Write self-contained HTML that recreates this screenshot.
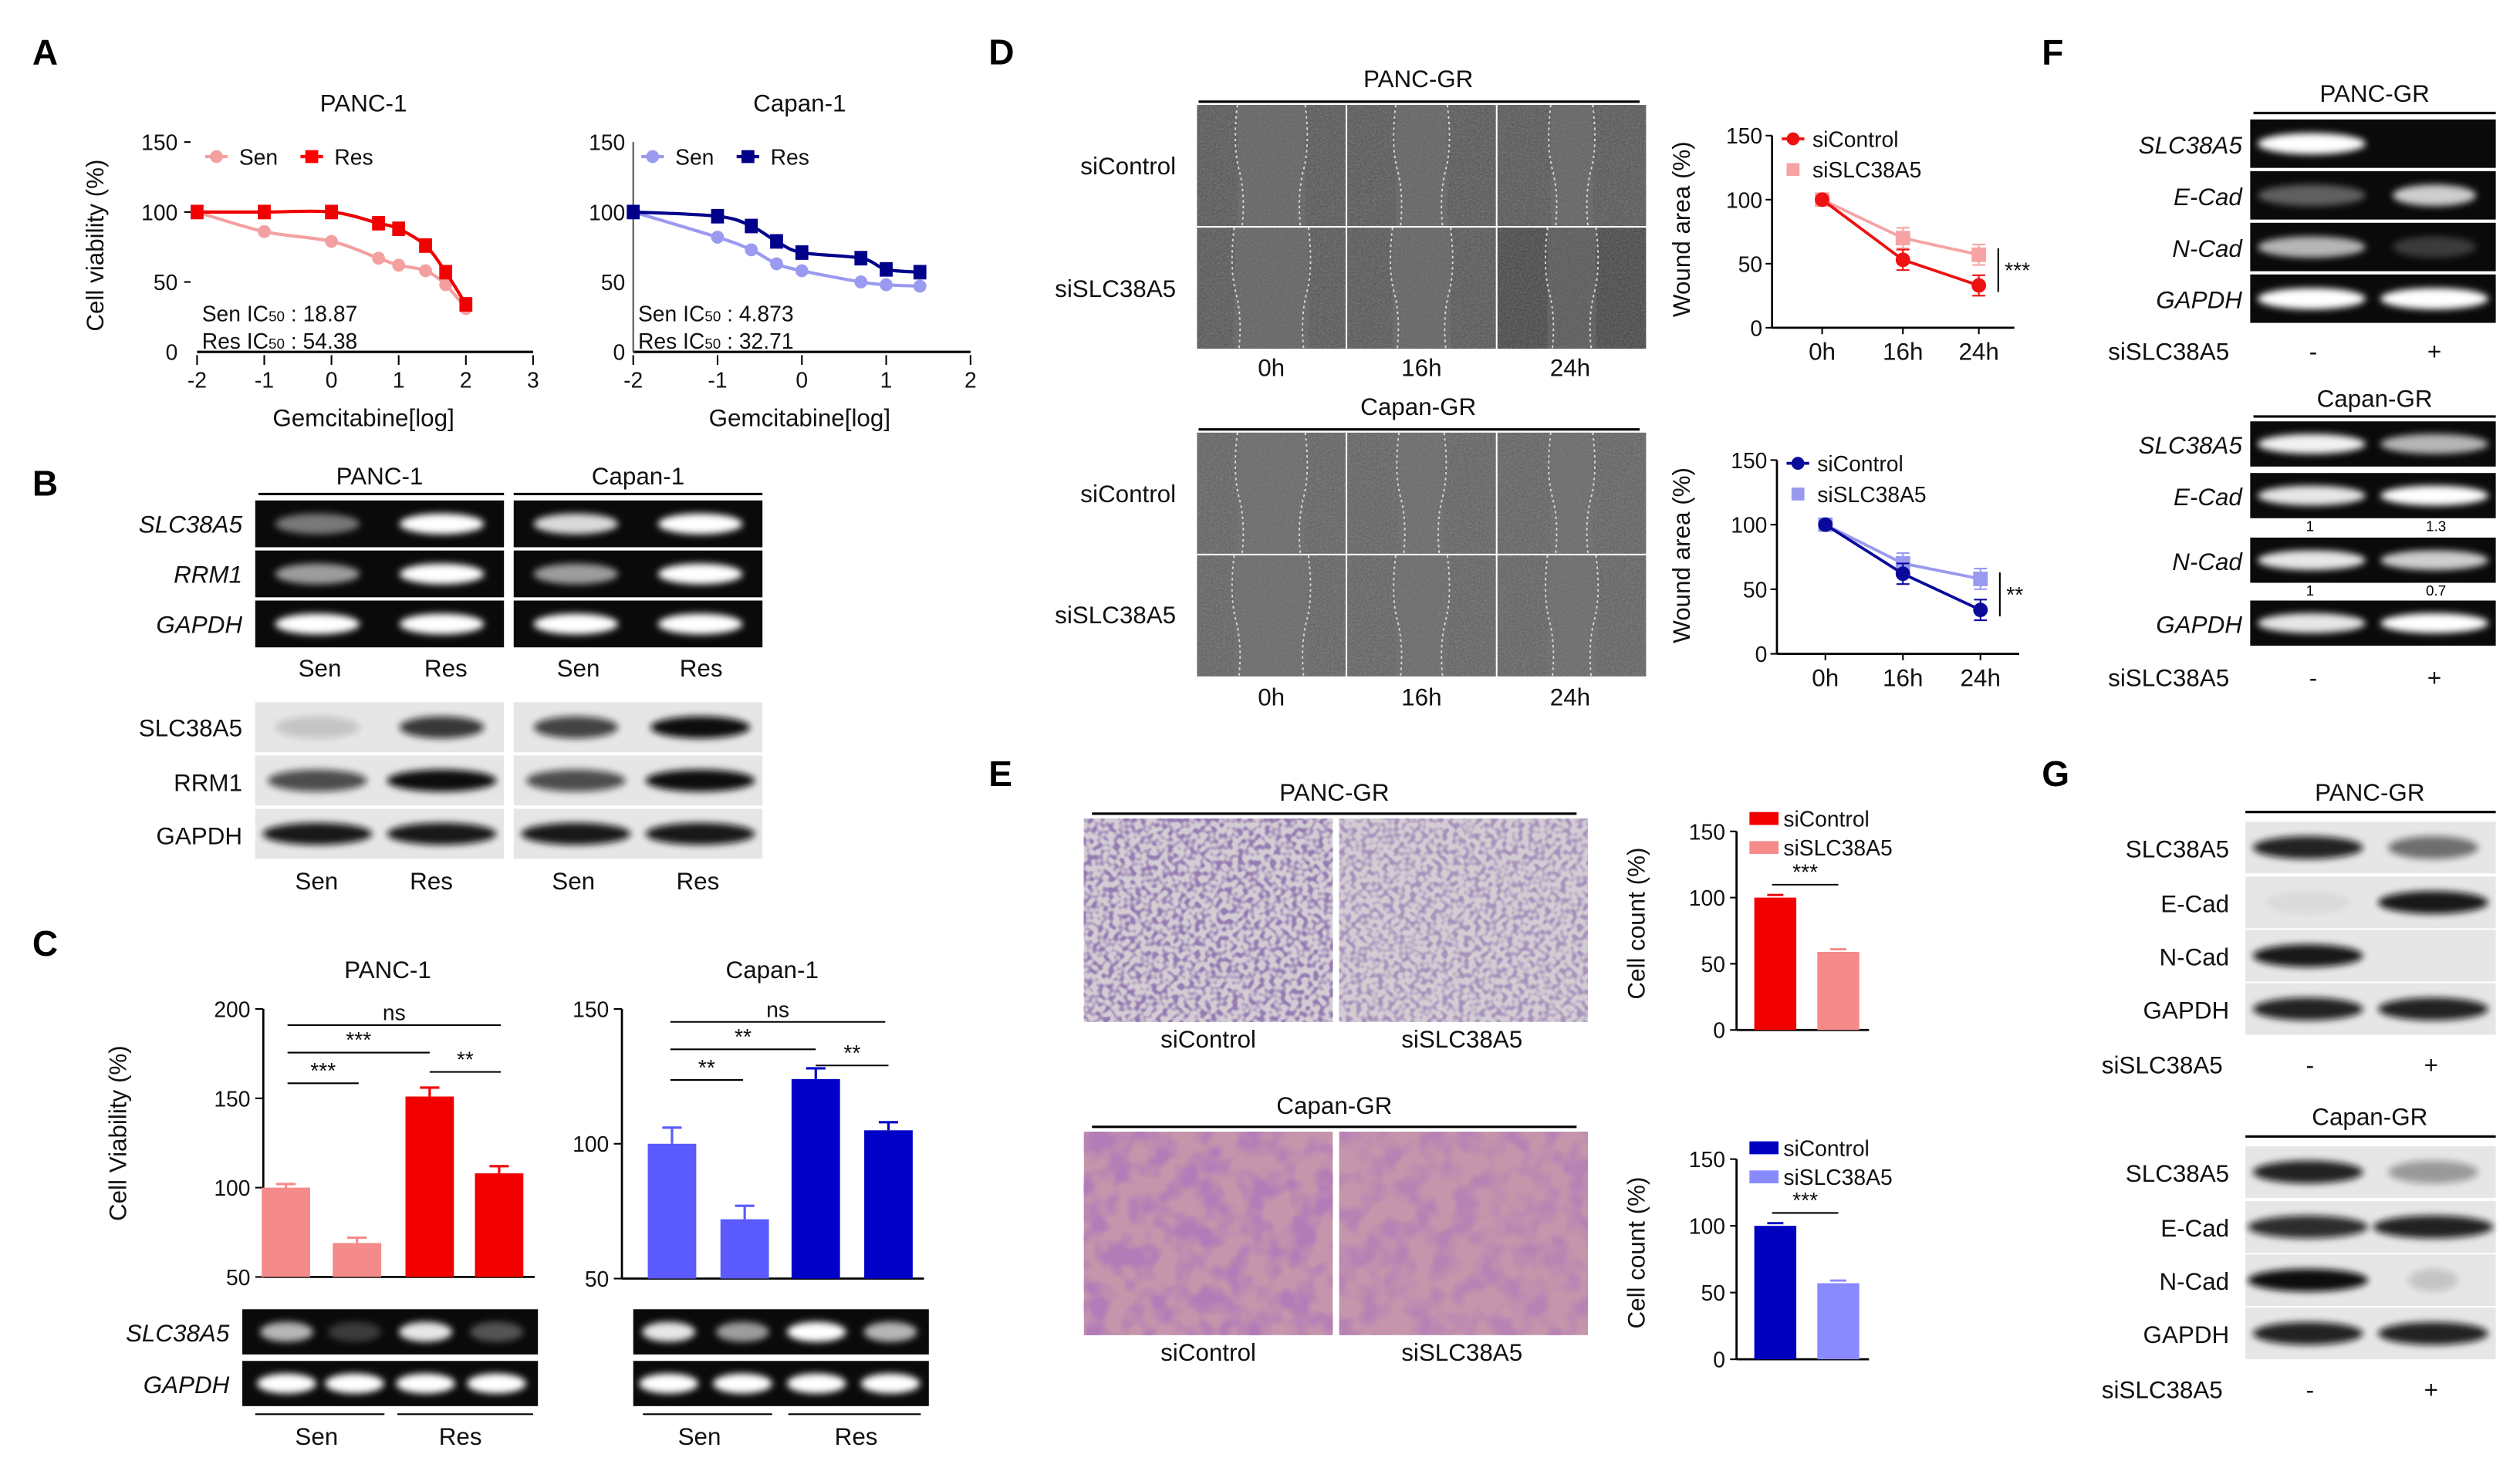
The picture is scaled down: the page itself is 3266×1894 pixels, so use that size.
<!DOCTYPE html>
<html><head><meta charset="utf-8">
<style>
html,body{margin:0;padding:0;background:#fff;}
svg{display:block;font-family:"Liberation Sans",Arial,sans-serif;}
.t{font-size:15px;fill:#111;}
.tk{font-size:13.5px;fill:#111;}
.it{font-style:italic;}
.pl{font-size:22px;font-weight:bold;fill:#000;}
</style></head>
<body>
<svg id="fig" width="3266" height="1894" viewBox="0 0 1560 905" preserveAspectRatio="none" xmlns="http://www.w3.org/2000/svg">
<defs>
<filter id="bl" x="-20%" y="-50%" width="140%" height="200%"><feGaussianBlur stdDeviation="2.2"/></filter>
<filter id="noise" x="0" y="0" width="1" height="1"><feTurbulence type="fractalNoise" baseFrequency="0.9" numOctaves="2" result="n"/><feColorMatrix type="saturate" values="0"/><feComponentTransfer><feFuncA type="table" tableValues="0 0.35"/></feComponentTransfer></filter>
<filter id="blob" x="0" y="0" width="1" height="1"><feTurbulence type="fractalNoise" baseFrequency="0.07" numOctaves="2"/><feColorMatrix type="matrix" values="0 0 0 0 0.45  0 0 0 0 0.2  0 0 0 0 0.48  0 0 0 -3.5 2.1"/></filter>
<filter id="dots" x="0" y="0" width="1" height="1"><feTurbulence type="fractalNoise" baseFrequency="0.3" numOctaves="1"/><feColorMatrix type="matrix" values="0 0 0 0 0.3  0 0 0 0 0.2  0 0 0 0 0.45  0 0 0 -4 2.3"/></filter>
</defs>
<rect width="1560" height="905" fill="#fff"/>

<text class="pl" x="20" y="40">A</text>
<text class="pl" x="20" y="307">B</text>
<text class="pl" x="20" y="592">C</text>
<text class="pl" x="612" y="40">D</text>
<text class="pl" x="612" y="487">E</text>
<text class="pl" x="1264" y="40">F</text>
<text class="pl" x="1264" y="487">G</text>

<g>
<text class="t" x="225" y="69" text-anchor="middle">PANC-1</text>
<text class="t" x="495" y="69" text-anchor="middle">Capan-1</text>
<text class="t" transform="translate(64,152) rotate(-90)" text-anchor="middle">Cell viability (%)</text>
<text class="t" x="225" y="264" text-anchor="middle">Gemcitabine[log]</text>
<text class="t" x="495" y="264" text-anchor="middle">Gemcitabine[log]</text>
<text class="tk" x="125" y="199">Sen IC<tspan font-size="9">50</tspan> : 18.87</text>
<text class="tk" x="125" y="216">Res IC<tspan font-size="9">50</tspan> : 54.38</text>
<text class="tk" x="395" y="199">Sen IC<tspan font-size="9">50</tspan> : 4.873</text>
<text class="tk" x="395" y="216">Res IC<tspan font-size="9">50</tspan> : 32.71</text>
<g>
<line x1="127" y1="97" x2="141" y2="97" stroke="#f4a0a0" stroke-width="2"/><circle cx="134" cy="97" r="4" fill="#f4a0a0"/>
<text class="tk" x="148" y="102">Sen</text>
<line x1="186" y1="97" x2="200" y2="97" stroke="#f00" stroke-width="2"/><rect x="189" y="93" width="8" height="8" fill="#f00"/>
<text class="tk" x="207" y="102">Res</text></g>
<g>
<line x1="397" y1="97" x2="411" y2="97" stroke="#9a9af0" stroke-width="2"/><circle cx="404" cy="97" r="4" fill="#9a9af0"/>
<text class="tk" x="418" y="102">Sen</text>
<line x1="456" y1="97" x2="470" y2="97" stroke="#00008b" stroke-width="2"/><rect x="459" y="93" width="8" height="8" fill="#00008b"/>
<text class="tk" x="477" y="102">Res</text></g>
</g>
<g id="chartA1"></g>
<g id="chartA2"></g>

<g>
<text class="t" x="235" y="300" text-anchor="middle">PANC-1</text>
<text class="t" x="395" y="300" text-anchor="middle">Capan-1</text>
<line x1="160" y1="306" x2="312" y2="306" stroke="#000" stroke-width="1.5"/>
<line x1="318" y1="306" x2="472" y2="306" stroke="#000" stroke-width="1.5"/>
<text class="t it" x="150" y="330" text-anchor="end">SLC38A5</text>
<text class="t it" x="150" y="361" text-anchor="end">RRM1</text>
<text class="t it" x="150" y="392" text-anchor="end">GAPDH</text>
<text class="t" x="150" y="456" text-anchor="end">SLC38A5</text>
<text class="t" x="150" y="490" text-anchor="end">RRM1</text>
<text class="t" x="150" y="523" text-anchor="end">GAPDH</text>
<text class="t" x="198" y="419" text-anchor="middle">Sen</text><text class="t" x="276" y="419" text-anchor="middle">Res</text>
<text class="t" x="358" y="419" text-anchor="middle">Sen</text><text class="t" x="434" y="419" text-anchor="middle">Res</text>
<text class="t" x="196" y="551" text-anchor="middle">Sen</text><text class="t" x="267" y="551" text-anchor="middle">Res</text>
<text class="t" x="355" y="551" text-anchor="middle">Sen</text><text class="t" x="432" y="551" text-anchor="middle">Res</text>
</g>
<g id="gels"></g>

<g>
<text class="t" x="240" y="606" text-anchor="middle">PANC-1</text>
<text class="t" x="478" y="606" text-anchor="middle">Capan-1</text>
<text class="t" transform="translate(78,702) rotate(-90)" text-anchor="middle">Cell Viability (%)</text>
<text class="t it" x="142" y="831" text-anchor="end">SLC38A5</text>
<text class="t it" x="142" y="863" text-anchor="end">GAPDH</text>
<line x1="158" y1="876" x2="238" y2="876" stroke="#000"/><line x1="246" y1="876" x2="330" y2="876" stroke="#000"/>
<text class="t" x="196" y="895" text-anchor="middle">Sen</text><text class="t" x="285" y="895" text-anchor="middle">Res</text>
<line x1="398" y1="876" x2="478" y2="876" stroke="#000"/><line x1="488" y1="876" x2="570" y2="876" stroke="#000"/>
<text class="t" x="433" y="895" text-anchor="middle">Sen</text><text class="t" x="530" y="895" text-anchor="middle">Res</text>
</g>
<g id="chartC1"></g>
<g id="chartC2"></g>

<g id="scratch"></g>
<g>
<text class="t" x="878" y="54" text-anchor="middle">PANC-GR</text>
<line x1="742" y1="63" x2="1015" y2="63" stroke="#000" stroke-width="1.5"/>
<text class="t" x="728" y="108" text-anchor="end">siControl</text>
<text class="t" x="728" y="184" text-anchor="end">siSLC38A5</text>
<text class="t" x="787" y="233" text-anchor="middle">0h</text><text class="t" x="880" y="233" text-anchor="middle">16h</text><text class="t" x="972" y="233" text-anchor="middle">24h</text>
<text class="t" x="878" y="257" text-anchor="middle">Capan-GR</text>
<line x1="742" y1="266" x2="1015" y2="266" stroke="#000" stroke-width="1.5"/>
<text class="t" x="728" y="311" text-anchor="end">siControl</text>
<text class="t" x="728" y="386" text-anchor="end">siSLC38A5</text>
<text class="t" x="787" y="437" text-anchor="middle">0h</text><text class="t" x="880" y="437" text-anchor="middle">16h</text><text class="t" x="972" y="437" text-anchor="middle">24h</text>
<text class="t" transform="translate(1046,142) rotate(-90)" text-anchor="middle">Wound area (%)</text>
<text class="t" transform="translate(1046,344) rotate(-90)" text-anchor="middle">Wound area (%)</text>
</g>
<g id="chartD1"></g>
<g id="chartD2"></g>

<g id="transwell"></g>
<g>
<text class="t" x="826" y="496" text-anchor="middle">PANC-GR</text>
<line x1="676" y1="504" x2="976" y2="504" stroke="#000" stroke-width="1.5"/>
<text class="t" x="826" y="690" text-anchor="middle">Capan-GR</text>
<line x1="676" y1="698" x2="976" y2="698" stroke="#000" stroke-width="1.5"/>
<text class="t" x="748" y="649" text-anchor="middle">siControl</text><text class="t" x="905" y="649" text-anchor="middle">siSLC38A5</text>
<text class="t" x="748" y="843" text-anchor="middle">siControl</text><text class="t" x="905" y="843" text-anchor="middle">siSLC38A5</text>
<text class="t" transform="translate(1018,572) rotate(-90)" text-anchor="middle">Cell count (%)</text>
<text class="t" transform="translate(1018,776) rotate(-90)" text-anchor="middle">Cell count (%)</text>
</g>
<g id="chartE1"></g>
<g id="chartE2"></g>

<g>
<text class="t" x="1470" y="63" text-anchor="middle">PANC-GR</text>
<line x1="1395" y1="70" x2="1545" y2="70" stroke="#000" stroke-width="1.5"/>
<text class="t it" x="1388" y="95" text-anchor="end">SLC38A5</text>
<text class="t it" x="1388" y="127" text-anchor="end">E-Cad</text>
<text class="t it" x="1388" y="159" text-anchor="end">N-Cad</text>
<text class="t it" x="1388" y="191" text-anchor="end">GAPDH</text>
<text class="t" x="1380" y="223" text-anchor="end">siSLC38A5</text><text class="t" x="1432" y="223" text-anchor="middle">-</text><text class="t" x="1507" y="223" text-anchor="middle">+</text>
<text class="t" x="1470" y="252" text-anchor="middle">Capan-GR</text>
<line x1="1395" y1="258" x2="1545" y2="258" stroke="#000" stroke-width="1.5"/>
<text class="t it" x="1388" y="281" text-anchor="end">SLC38A5</text>
<text class="t it" x="1388" y="313" text-anchor="end">E-Cad</text>
<text class="t it" x="1388" y="353" text-anchor="end">N-Cad</text>
<text class="t it" x="1388" y="392" text-anchor="end">GAPDH</text>
<text font-size="9" x="1430" y="329" text-anchor="middle">1</text><text font-size="9" x="1508" y="329" text-anchor="middle">1.3</text>
<text font-size="9" x="1430" y="369" text-anchor="middle">1</text><text font-size="9" x="1508" y="369" text-anchor="middle">0.7</text>
<text class="t" x="1380" y="425" text-anchor="end">siSLC38A5</text><text class="t" x="1432" y="425" text-anchor="middle">-</text><text class="t" x="1507" y="425" text-anchor="middle">+</text>

<text class="t" x="1467" y="496" text-anchor="middle">PANC-GR</text>
<line x1="1390" y1="503" x2="1545" y2="503" stroke="#000" stroke-width="1.5"/>
<text class="t" x="1380" y="531" text-anchor="end">SLC38A5</text>
<text class="t" x="1380" y="565" text-anchor="end">E-Cad</text>
<text class="t" x="1380" y="598" text-anchor="end">N-Cad</text>
<text class="t" x="1380" y="631" text-anchor="end">GAPDH</text>
<text class="t" x="1376" y="665" text-anchor="end">siSLC38A5</text><text class="t" x="1430" y="665" text-anchor="middle">-</text><text class="t" x="1505" y="665" text-anchor="middle">+</text>
<text class="t" x="1467" y="697" text-anchor="middle">Capan-GR</text>
<line x1="1390" y1="704" x2="1545" y2="704" stroke="#000" stroke-width="1.5"/>
<text class="t" x="1380" y="732" text-anchor="end">SLC38A5</text>
<text class="t" x="1380" y="766" text-anchor="end">E-Cad</text>
<text class="t" x="1380" y="799" text-anchor="end">N-Cad</text>
<text class="t" x="1380" y="832" text-anchor="end">GAPDH</text>
<text class="t" x="1376" y="866" text-anchor="end">siSLC38A5</text><text class="t" x="1430" y="866" text-anchor="middle">-</text><text class="t" x="1505" y="866" text-anchor="middle">+</text>
</g>
</svg>

<script>
// ===== Data =====
const doseSenPancX = [-2, -1, 0, 0.7, 1, 1.4, 1.7, 2];
const doseSenPancY = [100, 86, 79, 67, 62, 58, 48, 31];
const doseResPancX = [-2, -1, 0, 0.7, 1, 1.4, 1.7, 2];
const doseResPancY = [100, 100, 100, 92, 88, 76, 57, 34];
const doseSenCapanX = [-2, -1, -0.6, -0.3, 0, 0.7, 1, 1.4];
const doseSenCapanY = [100, 82, 73, 63, 58, 50, 48, 47];
const doseResCapanX = [-2, -1, -0.6, -0.3, 0, 0.7, 1, 1.4];
const doseResCapanY = [100, 97, 90, 79, 71, 67, 59, 57];
const aTicksY = [0, 50, 100, 150];
const a1TicksX = [-2, -1, 0, 1, 2, 3];
const a2TicksX = [-2, -1, 0, 1, 2];
const cCategories = ["Sen-siControl", "Sen-siSLC38A5", "Res-siControl", "Res-siSLC38A5"];
const c1Values = [100, 69, 151, 108];
const c1Err = [2, 3, 5, 4];
const c2Values = [100, 72, 124, 105];
const c2Err = [6, 5, 4, 3];
const c1TicksY = [50, 100, 150, 200];
const c2TicksY = [50, 100, 150];
const dTimes = ["0h", "16h", "24h"];
const d1Control = [100, 53, 33];
const d1Knock = [100, 70, 57];
const d2Control = [100, 62, 34];
const d2Knock = [100, 70, 58];
const dTicksY = [0, 50, 100, 150];
const eCategories = ["siControl", "siSLC38A5"];
const e1Values = [100, 59];
const e2Values = [100, 57];
const eTicksY = [0, 50, 100, 150];

const NS = "http://www.w3.org/2000/svg";
function mk(parent, tag, attrs) {
  const el = document.createElementNS(NS, tag);
  for (const k in attrs) el.setAttribute(k, attrs[k]);
  parent.appendChild(el);
  return el;
}
function smooth(pts) {
  let d = "M" + pts[0][0] + "," + pts[0][1];
  for (let i = 0; i < pts.length - 1; i++) {
    const p0 = pts[i - 1] || pts[i], p1 = pts[i], p2 = pts[i + 1], p3 = pts[i + 2] || p2;
    const c1x = p1[0] + (p2[0] - p0[0]) / 6, c1y = p1[1] + (p2[1] - p0[1]) / 6;
    const c2x = p2[0] - (p3[0] - p1[0]) / 6, c2y = p2[1] - (p3[1] - p1[1]) / 6;
    d += " C" + c1x + "," + c1y + " " + c2x + "," + c2y + " " + p2[0] + "," + p2[1];
  }
  return d;
}

function doseChart(gid, x0, xpu, xmin, xticks, sets, leftTicks) {
  const g = document.getElementById(gid);
  const sx = v => x0 + (v - xmin) * xpu;
  const sy = v => 218 - v * 130 / 150;
  const ax = mk(g, "line", {x1: sx(xmin), y1: sy(0), x2: sx(xticks[xticks.length-1]), y2: sy(0), stroke: "#000", "stroke-width": 1.5});
  
  
  if (!leftTicks) {
    const ay = mk(g, "line", {x1: sx(xmin), y1: sy(0), x2: sx(xmin), y2: sy(150), stroke: "#555", "stroke-width": 1});
    
    
  }
  aTicksY.forEach(t => {
    const tl = mk(g, "text", {x: sx(xmin) - (leftTicks ? 12 : 5), y: sy(t) + 5, "text-anchor": "end", class: "tk"});
    tl.textContent = t;
    
    
    if (leftTicks && t > 0) mk(g, "line", {x1: sx(xmin) - 8, x2: sx(xmin) - 4, y1: sy(t), y2: sy(t), stroke: "#000"});
  });
  xticks.forEach(t => {
    mk(g, "line", {x1: sx(t), x2: sx(t), y1: sy(0) + 2, y2: sy(0) + 8, stroke: "#000"});
    const tl = mk(g, "text", {x: sx(t), y: 240, "text-anchor": "middle", class: "tk"});
    tl.textContent = t;
    
    
  });
  sets.forEach(s => {
    const pts = s.x.map((v, i) => [sx(v), sy(s.y[i])]);
    const p = mk(g, "path", {d: smooth(pts), fill: "none", stroke: s.c, "stroke-width": 2});
    
    
    pts.forEach(q => {
      let m;
      if (s.sq) m = mk(g, "rect", {x: q[0] - 4, y: q[1] - 4.5, width: 8, height: 9, fill: s.c});
      else m = mk(g, "circle", {cx: q[0], cy: q[1], r: 4, fill: s.c});
      
      
    });
  });
}
doseChart("chartA1", 122, 41.6, -2, a1TicksX, [
  {x: doseSenPancX, y: doseSenPancY, c: "#f4a0a0", name: "sen"},
  {x: doseResPancX, y: doseResPancY, c: "#f00000", sq: true, name: "res"}], true);
doseChart("chartA2", 392, 52.2, -2, a2TicksX, [
  {x: doseSenCapanX, y: doseSenCapanY, c: "#9a9af0", name: "sen"},
  {x: doseResCapanX, y: doseResCapanY, c: "#00008b", sq: true, name: "res"}], false);

const gels = document.getElementById("gels");
function gelRow(x, y, w, h, bands, dark) {
  mk(gels, "rect", {x: x, y: y, width: w, height: h, fill: dark ? "#0a0a0a" : "#e6e6e6"});
  bands.forEach(b => {
    if (b[1] <= 0) return;
    const e = mk(gels, "ellipse", {cx: x + b[0] * w, cy: y + h / 2, rx: w * (b[2] || 0.17), ry: h * 0.22, fill: dark ? "#fff" : "#111", opacity: b[1], filter: "url(#bl)"});
    
    
  });
}
[[310, [[0.25, 0.45], [0.75, 1]]], [341, [[0.25, 0.6], [0.75, 1]]], [372, [[0.25, 1], [0.75, 1]]]].forEach(r => gelRow(158, r[0], 154, 29, r[1], true));
[[310, [[0.25, 0.85], [0.75, 1]]], [341, [[0.25, 0.6], [0.75, 1]]], [372, [[0.25, 1], [0.75, 1]]]].forEach(r => gelRow(318, r[0], 154, 29, r[1], true));
[[435, [[0.25, 0.15], [0.75, 0.8]]], [468, [[0.25, 0.7, 0.2], [0.75, 1, 0.22]]], [501, [[0.25, 0.95, 0.22], [0.75, 0.95, 0.22]]]].forEach(r => gelRow(158, r[0], 154, 31, r[1], false));
[[435, [[0.25, 0.75], [0.75, 1, 0.2]]], [468, [[0.25, 0.7, 0.2], [0.75, 1, 0.22]]], [501, [[0.25, 0.95, 0.22], [0.75, 0.95, 0.22]]]].forEach(r => gelRow(318, r[0], 154, 31, r[1], false));
gelRow(150, 811, 183, 28, [[0.15, 0.7, 0.09], [0.38, 0.2, 0.09], [0.62, 0.9, 0.09], [0.86, 0.3, 0.09]], true);
gelRow(150, 843, 183, 28, [[0.15, 1, 0.1], [0.38, 1, 0.1], [0.62, 1, 0.1], [0.86, 1, 0.1]], true);
gelRow(392, 811, 183, 28, [[0.12, 0.9, 0.09], [0.37, 0.6, 0.09], [0.62, 1, 0.1], [0.87, 0.7, 0.09]], true);
gelRow(392, 843, 183, 28, [[0.12, 1, 0.1], [0.37, 1, 0.1], [0.62, 1, 0.1], [0.87, 1, 0.1]], true);
[[74, [[0.25, 1, 0.22], [0.75, 0]]], [106, [[0.25, 0.35, 0.22], [0.75, 0.8]]], [138, [[0.25, 0.7, 0.22], [0.75, 0.2]]], [170, [[0.25, 1, 0.22], [0.75, 1, 0.22]]]].forEach(r => gelRow(1393, r[0], 152, 30, r[1], true));
[[261, [[0.25, 0.95, 0.22], [0.75, 0.7, 0.22]]], [293, [[0.25, 0.9, 0.22], [0.75, 1, 0.22]]], [333, [[0.25, 0.9, 0.22], [0.75, 0.8, 0.22]]], [372, [[0.25, 0.9, 0.22], [0.75, 1, 0.22]]]].forEach(r => gelRow(1393, r[0], 152, 28, r[1], true));
[[509, [[0.25, 0.9, 0.22], [0.75, 0.55, 0.18]]], [543, [[0.25, 0.05], [0.75, 0.95, 0.22]]], [576, [[0.25, 0.95, 0.22], [0.75, 0]]], [609, [[0.25, 0.9, 0.22], [0.75, 0.9, 0.22]]]].forEach(r => gelRow(1390, r[0], 155, 32, r[1], false));
[[710, [[0.25, 0.9, 0.22], [0.75, 0.35, 0.18]]], [744, [[0.25, 0.85, 0.24], [0.75, 0.9, 0.24]]], [777, [[0.25, 1, 0.24], [0.75, 0.15, 0.1]]], [810, [[0.25, 0.9, 0.22], [0.75, 0.9, 0.22]]]].forEach(r => gelRow(1390, r[0], 155, 32, r[1], false));

// scratch images
const scr = document.getElementById("scratch");
const gapW = [[46, 36, 30], [46, 32, 30]];
[65, 268].forEach((top, bi) => {
  for (let r = 0; r < 2; r++) for (let c = 0; c < 3; c++) {
    const x = 741 + c * 93, y = top + r * 76;
    const im = mk(scr, "rect", {x: x, y: y, width: 92, height: 75, fill: bi ? "#606060" : (r && c == 2 ? "#444" : "#555")});
    
    
    mk(scr, "rect", {x: x, y: y, width: 92, height: 75, fill: "#fff", filter: "url(#noise)"});
    const w = gapW[bi][c] - (r ? 0 : 4);
    mk(scr, "rect", {x: x + 46 - w / 2, y: y, width: w, height: 75, fill: "#777", opacity: 0.4});
    mk(scr, "path", {d: "M" + (x + 46 - w / 2) + "," + y + " q-3,25 1,40 t2,35", fill: "none", stroke: "#ddd", "stroke-dasharray": "1.5 2", "stroke-width": 0.9});
    mk(scr, "path", {d: "M" + (x + 46 + w / 2) + "," + y + " q3,25 -1,40 t-2,35", fill: "none", stroke: "#ddd", "stroke-dasharray": "1.5 2", "stroke-width": 0.9});
  }
});

// transwell
const tw = document.getElementById("transwell");
[[507, "#d3ccd3", "url(#dots)"], [701, "#c495ab", "url(#blob)"]].forEach(t => {
  [671, 829].forEach((x, i) => {
    const im = mk(tw, "rect", {x: x, y: t[0], width: 154, height: 126, fill: t[1]});
    
    
    mk(tw, "rect", {x: x, y: t[0], width: 154, height: 126, fill: "#000", filter: t[2], opacity: i ? 0.7 : 1});
  });
});

function barChart(gid, ax, vals, errs, colors, ticks, sy, xs, ymin) {
  const g = document.getElementById(gid);
  const yl = mk(g, "line", {x1: ax, y1: sy(ymin), x2: ax, y2: sy(ticks[ticks.length - 1]), stroke: "#000", "stroke-width": 1.3});
  
  
  const xl = mk(g, "line", {x1: ax, y1: sy(ymin), x2: xs[xs.length - 1] + 22, y2: sy(ymin), stroke: "#000", "stroke-width": 1.3});
  
  
  ticks.forEach(t => {
    mk(g, "line", {x1: ax - 5, x2: ax, y1: sy(t), y2: sy(t), stroke: "#000"});
    const tl = mk(g, "text", {x: ax - 8, y: sy(t) + 5, "text-anchor": "end", class: "tk"});
    tl.textContent = t;
    
    
  });
  vals.forEach((v, i) => {
    const b = mk(g, "rect", {x: xs[i] - 15, y: sy(v), width: 30, height: sy(ymin) - sy(v), fill: colors[i]});
    
    
    const e = mk(g, "path", {d: "M" + xs[i] + "," + sy(v) + "V" + sy(v + errs[i]) + "M" + (xs[i] - 6) + "," + sy(v + errs[i]) + "H" + (xs[i] + 6), stroke: colors[i], "stroke-width": 1.5, fill: "none"});
    
    
  });
  return g;
}
function sig(g, x1, x2, y, label) {
  mk(g, "line", {x1: x1, x2: x2, y1: y, y2: y, stroke: "#000", "stroke-width": 1});
  const t = mk(g, "text", {x: (x1 + x2) / 2, y: y - 3, "text-anchor": "middle", class: "tk"});
  t.textContent = label;
  
  
}
const syC1 = v => 791 - (v - 50) * 166 / 150;
const gC1 = barChart("chartC1", 163, c1Values, c1Err, ["#f58a8a", "#f58a8a", "#f20000", "#f20000"], c1TicksY, syC1, [177, 221, 266, 309], 50);
sig(gC1, 178, 310, 635, "ns"); sig(gC1, 178, 266, 652, "***"); sig(gC1, 178, 222, 671, "***"); sig(gC1, 266, 310, 664, "**");
const syC2 = v => 792 - (v - 50) * 167 / 100;
const gC2 = barChart("chartC2", 385, c2Values, c2Err, ["#5a5aff", "#5a5aff", "#0000c8", "#0000c8"], c2TicksY, syC2, [416, 461, 505, 550], 50);
sig(gC2, 415, 548, 633, "ns"); sig(gC2, 415, 505, 650, "**"); sig(gC2, 415, 460, 669, "**"); sig(gC2, 505, 550, 660, "**");

function lineChart(gid, ax, y0, ytop, xs, ctl, kd, cc, kc, star, legY) {
  const g = document.getElementById(gid);
  const sy = v => y0 - v * (y0 - ytop) / 150;
  const yl = mk(g, "line", {x1: ax, y1: y0, x2: ax, y2: ytop, stroke: "#000", "stroke-width": 1.3});
  
  
  const xl = mk(g, "line", {x1: ax, y1: y0, x2: ax + 150, y2: y0, stroke: "#000", "stroke-width": 1.3});
  
  
  dTicksY.forEach(t => {
    mk(g, "line", {x1: ax - 4, x2: ax, y1: sy(t), y2: sy(t), stroke: "#000"});
    const tl = mk(g, "text", {x: ax - 6, y: sy(t) + 5, "text-anchor": "end", class: "tk"});
    tl.textContent = t;
    
    
  });
  dTimes.forEach((t, i) => {
    mk(g, "line", {x1: xs[i], x2: xs[i], y1: y0, y2: y0 + 4, stroke: "#000"});
    const tl = mk(g, "text", {x: xs[i], y: y0 + 20, "text-anchor": "middle", class: "t"});
    tl.textContent = t;
    
    
  });
  [[kd, kc, true, "siSLC38A5"], [ctl, cc, false, "siControl"]].forEach(s => {
    const pts = s[0].map((v, i) => xs[i] + "," + sy(v)).join(" ");
    const pl = mk(g, "polyline", {points: pts, fill: "none", stroke: s[1], "stroke-width": 1.8});
    
    
    s[0].forEach((v, i) => {
      if (i > 0) mk(g, "path", {d: "M" + xs[i] + "," + sy(v - 8) + "V" + sy(v + 8) + "M" + (xs[i] - 4) + "," + sy(v + 8) + "h8M" + (xs[i] - 4) + "," + sy(v - 8) + "h8", stroke: s[1], "stroke-width": 1, fill: "none"});
      let m;
      if (s[2]) m = mk(g, "rect", {x: xs[i] - 4.5, y: sy(v) - 4.5, width: 9, height: 9, fill: s[1]});
      else m = mk(g, "circle", {cx: xs[i], cy: sy(v), r: 4.5, fill: s[1]});
      
      
    });
  });
  mk(g, "line", {x1: xs[2] + 12, x2: xs[2] + 12, y1: sy(kd[2]) - 4, y2: sy(ctl[2]) + 4, stroke: "#000"});
  const st = mk(g, "text", {x: xs[2] + 16, y: (sy(kd[2]) + sy(ctl[2])) / 2 + 5, class: "tk"});
  st.textContent = star;
  
  
  mk(g, "line", {x1: ax + 6, x2: ax + 20, y1: legY, y2: legY, stroke: cc, "stroke-width": 1.8});
  mk(g, "circle", {cx: ax + 13, cy: legY, r: 4, fill: cc});
  const l1 = mk(g, "text", {x: ax + 25, y: legY + 5, class: "tk"});
  l1.textContent = "siControl";
  
  
  mk(g, "rect", {x: ax + 9, y: legY + 15, width: 8, height: 8, fill: kc});
  const l2 = mk(g, "text", {x: ax + 25, y: legY + 24, class: "tk"});
  l2.textContent = "siSLC38A5";
  
  
}
lineChart("chartD1", 1097, 203, 84, [1128, 1178, 1225], d1Control, d1Knock, "#ee1111", "#f7a3a3", "***", 86);
lineChart("chartD2", 1100, 405, 285, [1130, 1178, 1226], d2Control, d2Knock, "#0a0a9a", "#9999f0", "**", 287);

function invChart(gid, ax, y0, ytop, vals, colors, legY) {
  const g = document.getElementById(gid);
  const sy = v => y0 - v * (y0 - ytop) / 150;
  const yl = mk(g, "line", {x1: ax, y1: y0, x2: ax, y2: ytop, stroke: "#000", "stroke-width": 1.3});
  
  
  const xl = mk(g, "line", {x1: ax, y1: y0, x2: ax + 82, y2: y0, stroke: "#000", "stroke-width": 1.3});
  
  
  eTicksY.forEach(t => {
    mk(g, "line", {x1: ax - 4, x2: ax, y1: sy(t), y2: sy(t), stroke: "#000"});
    const tl = mk(g, "text", {x: ax - 7, y: sy(t) + 5, "text-anchor": "end", class: "tk"});
    tl.textContent = t;
    
    
  });
  const xs = [ax + 24, ax + 63];
  vals.forEach((v, i) => {
    const b = mk(g, "rect", {x: xs[i] - 13, y: sy(v), width: 26, height: y0 - sy(v), fill: colors[i]});
    
    
    mk(g, "path", {d: "M" + (xs[i] - 5) + "," + sy(v + 2) + "h10", stroke: colors[i], "stroke-width": 1.4});
  });
  sig(g, xs[0] - 2, xs[1], sy(vals[0]) - 8, "***");
  eCategories.forEach((c, i) => {
    mk(g, "rect", {x: ax + 8, y: legY + i * 18 - 5, width: 18, height: 8, fill: colors[i]});
    const l = mk(g, "text", {x: ax + 29, y: legY + i * 18 + 4, class: "tk"});
    l.textContent = c;
    
    
  });
}
invChart("chartE1", 1075, 638, 515, e1Values, ["#f20000", "#f58a8a"], 508);
invChart("chartE2", 1075, 842, 718, e2Values, ["#0000c0", "#8a8aff"], 712);
</script>
</body></html>
